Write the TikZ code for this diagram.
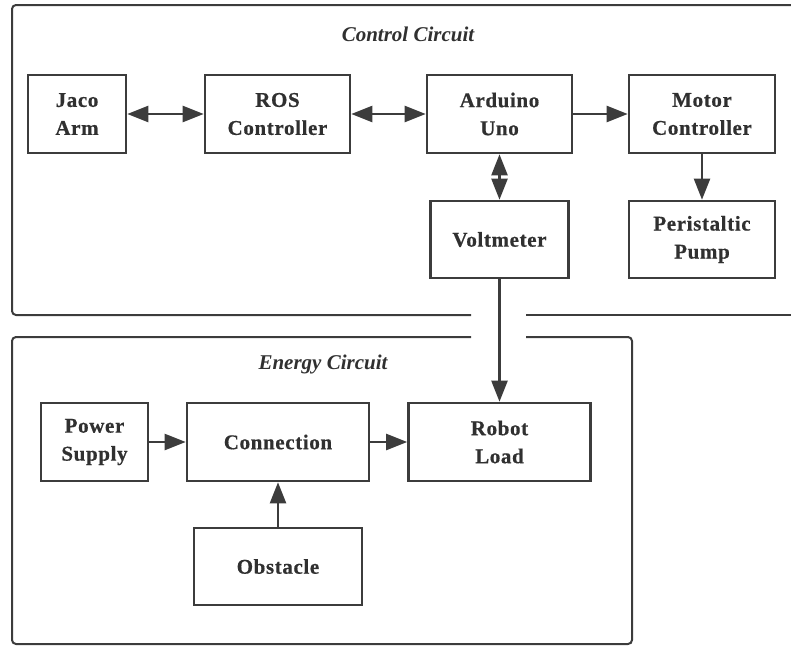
\documentclass[tikz,border=0pt]{standalone}
\usepackage{fontspec}
\setmainfont{Liberation Serif}
\newfontfamily\boxfont[LetterSpace=3,FakeBold=0.6]{Liberation Serif Bold}
\newfontfamily\titlefont{Liberation Serif Bold Italic}
\usetikzlibrary{arrows.meta}
\definecolor{linegray}{HTML}{3C3C3C}
\definecolor{textgray}{HTML}{303030}
\tikzset{
	box/.style={draw=linegray, line width=2.6pt, align=center, inner sep=0pt,
		text=textgray, font=\boxfont\fontsize{21}{28}\selectfont},
	frame/.style={draw=linegray, line width=2pt, rounded corners=4pt},
	title/.style={text=textgray, font=\titlefont\fontsize{21}{25}\selectfont},
	link/.style={draw=linegray, line width=2.3pt, -{Triangle[length=21pt,width=16pt]}},
	duplex/.style={link, {Triangle[length=21pt,width=16pt]}-{Triangle[length=21pt,width=16pt]}}
}
\begin{document}
\begin{tikzpicture}[x=1pt, y=-1pt]
	\useasboundingbox (0,0) rectangle (791,645);
	\clip (0,0) rectangle (791,645);
	
	% containers
	\draw[frame] (471,315) -- (12,315) -- (12,5) -- (810,5);
	\draw[frame] (526,315) -- (810,315);
	\draw[frame] (471,337) -- (12,337) -- (12,644) -- (632,644) -- (632,337) -- (526,337);
	
	\node[title] (ctitle) at (408,34){Control Circuit};
	\node[title] (etitle) at (323,364){Energy Circuit};
	
	% control circuit
	\node[box, minimum width=98pt, minimum height=78pt] (jaco) at (77,114){Jaco\\Arm};
	\node[box, minimum width=145pt, minimum height=78pt] (ros) at (277.5,114){ROS\\Controller};
	\node[box, minimum width=145pt, minimum height=78pt] (arduino) at (499.5,114){Arduino\\Uno};
	\node[box, minimum width=146pt, minimum height=78pt] (motor) at (702,114){Motor\\Controller};
	\node[box, minimum width=138pt, minimum height=77pt] (voltmeter) at (499.5,239.5){Voltmeter};
	\node[box, minimum width=146pt, minimum height=77pt] (pump) at (702,239.5){Peristaltic\\Pump};
	
	% energy circuit
	\node[box, minimum width=107pt, minimum height=78pt] (power) at (94.5,442){Power\\Supply};
	\node[box, minimum width=182pt, minimum height=78pt] (connection) at (278,442){Connection};
	\node[box, minimum width=168pt, minimum height=77pt] (obstacle) at (278,566.5){Obstacle};
	\node[box, minimum width=182pt, minimum height=78pt] (robot) at (499.5,442){Robot\\Load};
	
	\draw[duplex] (jaco) -- (ros);
	\draw[duplex] (ros) -- (arduino);
	\draw[link] (arduino) -- (motor);
	\draw[link] (motor) -- (pump);
	\draw[duplex] (arduino) -- (voltmeter);
	\draw[link] (voltmeter) -- (robot);
	
	\draw[link] (power) -- (connection);
	\draw[link] (connection) -- (robot);
	\draw[link] (obstacle) -- (connection);
\end{tikzpicture}
\end{document}
